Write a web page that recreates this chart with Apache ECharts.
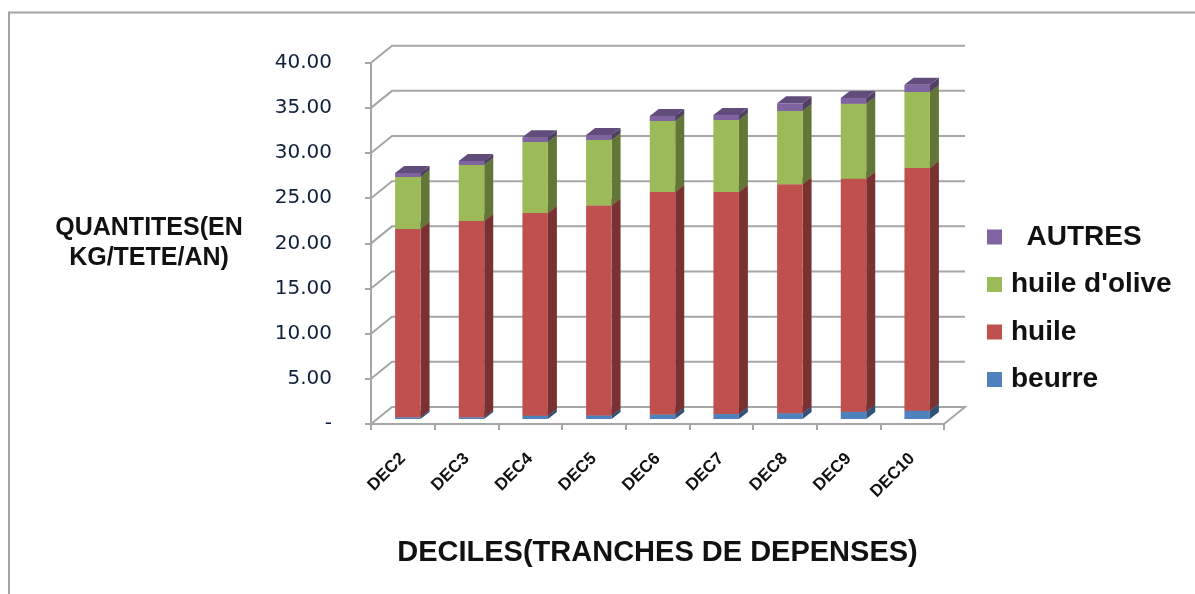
<!DOCTYPE html>
<html><head><meta charset="utf-8">
<style>html,body{margin:0;padding:0;background:#fff}#c{width:1195px;height:594px;filter:blur(0.5px)}</style>
<script src="https://cdn.jsdelivr.net/npm/echarts@6/dist/echarts.min.js"></script>
</head><body><div id="c"></div>
<script>
var categories = ['DEC2','DEC3','DEC4','DEC5','DEC6','DEC7','DEC8','DEC9','DEC10'];
var beurre = [0.2,0.2,0.35,0.4,0.5,0.55,0.65,0.8,0.9];
var huile  = [20.84,21.73,22.45,23.24,24.64,24.59,25.35,25.8,26.9];
var olive  = [5.76,6.2,7.87,7.26,7.86,7.96,8.1,8.3,8.4];
var autres = [0.44,0.44,0.53,0.55,0.55,0.57,0.86,0.65,0.8];
var yTicks = [0,5,10,15,20,25,30,35,40];
var legendOrder = ['AUTRES',"huile d'olive",'huile','beurre'];

var WALL_DX = 21, WALL_DY = -17, BAR_DX = 5, BAR_DY = -5, DEPTH_X = 9, DEPTH_Y = -7;
var FONT = '"Liberation Sans"';

function shade(hex, k){
  var n = parseInt(hex.slice(1),16);
  var c = [n>>16, (n>>8)&255, n&255].map(function(v){return Math.round(v*k);});
  return 'rgb('+c.join(',')+')';
}
function stackData(vals, prev){
  return vals.map(function(v,i){ var b = prev ? prev[i] : 0; return [i, b, b+v]; });
}
function tops(vals, prev){ return vals.map(function(v,i){ return v + (prev?prev[i]:0); }); }

function barRender(color){
  return function(params, api){
    var i = api.value(0);
    var p0 = api.coord([i, api.value(1)]);
    var p1 = api.coord([i, api.value(2)]);
    var w = api.size([1,0])[0]*0.4;
    var x0 = p0[0]-w/2+BAR_DX, x1 = x0+w;
    var yb = p0[1]+BAR_DY, yt = p1[1]+BAR_DY;
    return {type:'group', children:[
      {type:'polygon', shape:{points:[[x1,yb],[x1+DEPTH_X,yb+DEPTH_Y],[x1+DEPTH_X,yt+DEPTH_Y],[x1,yt]]}, style:{fill:shade(color,0.63)}},
      {type:'polygon', shape:{points:[[x0,yt],[x1,yt],[x1+DEPTH_X,yt+DEPTH_Y],[x0+DEPTH_X,yt+DEPTH_Y]]}, style:{fill:shade(color,0.76)}},
      {type:'rect', shape:{x:x0,y:yt,width:w,height:yb-yt}, style:{fill:color}}
    ]};
  };
}
function wallRender(params, api){
  var cs = params.coordSys;
  var y = api.coord([0, api.value(1)])[1];
  var xl = cs.x, xr = cs.x+cs.width;
  var st = {stroke:'#a6a6a6', lineWidth:2, fill:null};
  var pts = [[xl,y],[xl+WALL_DX,y+WALL_DY],[xr+WALL_DX,y+WALL_DY]];
  if (api.value(1) === 0) pts.push([xr,y]);
  return {type:'polyline', shape:{points:pts}, style:st, silent:true};
}
var t1 = tops(beurre), t2 = tops(huile,t1), t3 = tops(olive,t2);
function barSeries(name, vals, prev, color){
  return {name:name, type:'custom', z:3, clip:false, renderItem:barRender(color),
    itemStyle:{color:color}, encode:{x:0,y:[1,2]}, data:stackData(vals,prev)};
}
var chart = echarts.init(document.getElementById('c'),null,{renderer:'canvas'});
chart.setOption({
  animation:false,
  backgroundColor:'#fff',
  graphic:[{type:'rect', shape:{x:9,y:12.5,width:1300,height:700}, style:{fill:null,stroke:'#a3a3a3',lineWidth:2}, silent:true}],
  grid:{left:371, right:251, top:62.7, bottom:170},
  legend:{orient:'vertical', left:982, top:218, data:legendOrder, icon:'rect', itemWidth:15, itemHeight:15, itemGap:19.5,
    formatter:function(n){return n==='AUTRES' ? '  AUTRES' : n;},
    textStyle:{fontFamily:FONT,fontWeight:'bold',fontSize:28,color:'#111',padding:[0,0,0,4]}},
  xAxis:{type:'category', data:categories,
    axisLine:{lineStyle:{color:'#a6a6a6',width:2}},
    axisTick:{show:true,length:6,alignWithLabel:false,lineStyle:{color:'#a6a6a6',width:2}},
    axisLabel:{rotate:45,margin:32,interval:0,fontFamily:FONT,fontWeight:'bold',fontSize:17,color:'#111'},
    name:'DECILES(TRANCHES DE DEPENSES)', nameLocation:'middle', nameGap:114,
    nameTextStyle:{fontFamily:FONT,fontWeight:'bold',fontSize:29,color:'#111'}},
  yAxis:{type:'value', min:0, max:40, interval:5,
    axisLine:{show:true,lineStyle:{color:'#a6a6a6',width:2}},
    axisTick:{show:true,length:6,lineStyle:{color:'#a6a6a6',width:2}},
    splitLine:{show:false},
    axisLabel:{margin:39,fontFamily:'"DejaVu Sans"',fontSize:20,color:'#10203a',
      formatter:function(v){return v===0?'-':v.toFixed(2);}},
    name:'QUANTITES(EN\nKG/TETE/AN)', nameLocation:'middle', nameRotate:0, nameGap:222,
    nameTextStyle:{fontFamily:FONT,fontWeight:'bold',fontSize:25,lineHeight:30,align:'center',color:'#111'}},
  series:[
    {type:'custom', name:'walls', z:1, clip:false, silent:true, renderItem:wallRender, encode:{x:0,y:1},
      data:yTicks.map(function(v){return [0,v];})},
    barSeries('beurre',beurre,null,'#4f81bd'),
    barSeries('huile',huile,t1,'#c0504d'),
    barSeries("huile d'olive",olive,t2,'#9bbb59'),
    barSeries('AUTRES',autres,t3,'#8064a2')
  ]
});
</script></body></html>
